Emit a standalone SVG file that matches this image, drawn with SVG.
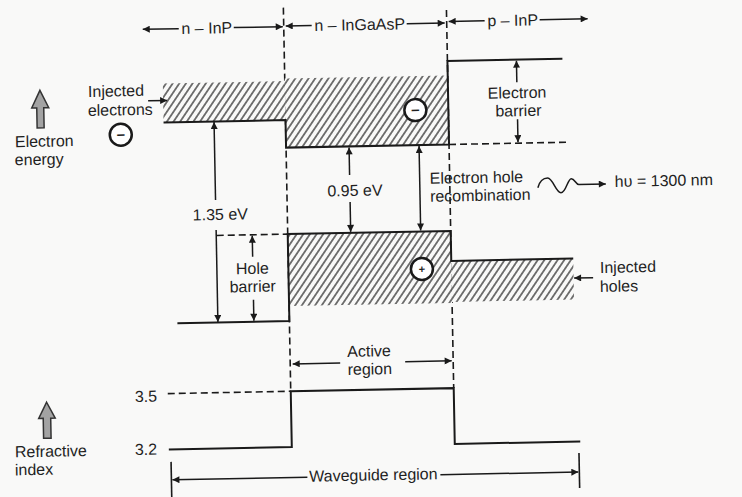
<svg xmlns="http://www.w3.org/2000/svg" width="742" height="497" viewBox="0 0 742 497">
  <style>
    text { font-family: "Liberation Sans", Arial, Helvetica, sans-serif; font-size: 16px; fill: #1f1f1f; }
    .mid { text-anchor: middle; }
    .band { fill: none; stroke: #1a1a1a; stroke-width: 2; }
    .dash { fill: none; stroke: #1a1a1a; stroke-width: 1.6; stroke-dasharray: 7 4; }
    .arr { fill: none; stroke: #1a1a1a; stroke-width: 1.5; marker-end: url(#ah); }
    .both { marker-start: url(#ah); }
    .hatch { fill: url(#hatch); stroke: none; }
    .carrier { fill: #ffffff; stroke: #1a1a1a; stroke-width: 2.5; }
    .hollow { fill: #a3a3a3; stroke: #333333; stroke-width: 1.5; }
    .sign { font-weight: bold; }
  </style>
  <defs>
    <marker id="ah" viewBox="0 0 10 10" refX="10" refY="5" markerWidth="9" markerHeight="7" markerUnits="userSpaceOnUse" orient="auto-start-reverse">
      <path d="M0,0 L10,5 L0,10 z" fill="#1a1a1a"/>
    </marker>
    <pattern id="hatch" patternUnits="userSpaceOnUse" width="5.5" height="10" patternTransform="rotate(35)">
      <rect width="5.5" height="10" fill="#f9f9f8"/>
      <line x1="2.75" y1="0" x2="2.75" y2="10" stroke="#333333" stroke-width="1.3"/>
    </pattern>
  </defs>
  <rect width="742" height="497" fill="#f9f9f8"/>
  <g transform="rotate(-1.1 371 248)">
    <g id="layer-labels">
      <line class="arr" x1="183" y1="25" x2="147" y2="25"/>
      <text class="mid" x="211" y="30.5">n – InP</text>
      <line class="arr" x1="238" y1="25" x2="287" y2="25"/>
      <line class="arr" x1="316" y1="24.5" x2="290" y2="24.5"/>
      <text class="mid" x="364" y="30">n – InGaAsP</text>
      <line class="arr" x1="411" y1="24.5" x2="449" y2="24.5"/>
      <line class="arr" x1="489" y1="23" x2="453" y2="23"/>
      <text class="mid" x="517" y="28.5">p – InP</text>
      <line class="arr" x1="544" y1="23" x2="592" y2="23"/>
    </g>
    <g id="junctions">
      <line class="dash" x1="288" y1="6" x2="288" y2="389.7"/>
      <line class="dash" x1="451" y1="11.5" x2="451" y2="389.7"/>
    </g>
    <g id="conduction-band">
      <rect class="hatch" x="166" y="79.5" width="122" height="39"/>
      <rect class="hatch" x="288" y="77" width="163" height="69"/>
      <polyline class="band" points="166,118.5 288,118.5 288,146 451,146 451,62.5 566,62.5"/>
      <line class="dash" x1="451" y1="146" x2="568" y2="146"/>
    </g>
    <g id="valence-band">
      <rect class="hatch" x="288" y="232.5" width="163" height="72"/>
      <rect class="hatch" x="451" y="262.5" width="122" height="41"/>
      <polyline class="band" points="176,319.5 288,319.5 288,232.5 451,232.5 451,262.5 573,262.5"/>
      <line class="dash" x1="217" y1="232.5" x2="288" y2="232.5"/>
    </g>
    <g id="electron-n">
      <circle class="carrier" cx="123" cy="130" r="11"/>
      <text class="mid sign" x="123" y="134.3" style="font-size:15px">–</text>
    </g>
    <g id="electron-active">
      <circle class="carrier" cx="418" cy="111" r="11"/>
      <text class="mid sign" x="418" y="115.3" style="font-size:15px">–</text>
    </g>
    <g id="hole-active">
      <circle class="carrier" cx="421.5" cy="270" r="11"/>
      <text class="mid sign" x="421.5" y="274" style="font-size:11px">+</text>
    </g>
    <g id="injected-electrons">
      <text x="91" y="91.6">Injected</text>
      <text x="90.5" y="110.6">electrons</text>
      <line class="arr" x1="151" y1="96.5" x2="170" y2="96.5"/>
    </g>
    <g id="electron-energy">
      <path class="hollow" d="M43,84 L51.5,101.5 L46.5,101.5 L46.5,121.5 L39.5,121.5 L39.5,101.5 L34.5,101.5 Z"/>
      <text x="17" y="140.5">Electron</text>
      <text x="16.5" y="158.5">energy</text>
    </g>
    <g id="gap-135">
      <line class="arr" x1="216.5" y1="197" x2="216.5" y2="119"/>
      <text class="mid" x="221" y="217">1.35 eV</text>
      <line class="arr" x1="216.5" y1="227" x2="216.5" y2="319"/>
    </g>
    <g id="hole-barrier">
      <line class="arr" x1="252.5" y1="254.5" x2="252.5" y2="233.5"/>
      <text class="mid" x="252" y="271.7">Hole</text>
      <text class="mid" x="252" y="289.7">barrier</text>
      <line class="arr" x1="252.5" y1="297.5" x2="252.5" y2="318.5"/>
    </g>
    <g id="gap-095">
      <line class="arr" x1="351" y1="174.5" x2="351" y2="147"/>
      <text class="mid" x="356" y="195.7">0.95 eV</text>
      <line class="arr" x1="351" y1="201.5" x2="351" y2="231.5"/>
    </g>
    <g id="recombination">
      <line class="arr both" x1="421" y1="147" x2="421" y2="231.5"/>
      <text x="431" y="185">Electron hole</text>
      <text x="431" y="203">recombination</text>
    </g>
    <g id="electron-barrier">
      <line class="arr" x1="520" y1="85" x2="520" y2="63.5"/>
      <text class="mid" x="520" y="101">Electron</text>
      <text class="mid" x="521" y="119">barrier</text>
      <line class="arr" x1="520" y1="122" x2="520" y2="145"/>
    </g>
    <g id="photon">
      <path class="arr" d="M539,191 C541,184 545,181.5 549,181.5 C554,181.5 557,196.5 562,196.5 C567,196.5 569,182.5 572.5,182.5 C576,182.5 577,188.5 580,188.5 L607,188.5"/>
      <text x="616" y="191.7">hυ = 1300 nm</text>
    </g>
    <g id="injected-holes">
      <text x="599.5" y="277.4">Injected</text>
      <text x="599" y="296.4">holes</text>
      <line class="arr" x1="592.5" y1="282" x2="573.5" y2="282"/>
    </g>
    <g id="refractive-index">
      <path class="hollow" d="M43.7,396 L52,412 L47.5,412 L47.5,432 L40,432 L40,412 L35.5,412 Z"/>
      <text x="11" y="450.5">Refractive</text>
      <text x="10.7" y="468.5">index</text>
      <text x="132" y="397.5">3.5</text>
      <text x="131" y="450.5">3.2</text>
      <line class="dash" x1="165" y1="389.7" x2="288" y2="389.7"/>
      <polyline class="band" points="165,445.5 288,445.5 288,389.7 451,389.7 451,445.5 576.5,445.5"/>
    </g>
    <g id="active-region">
      <text class="mid" x="367" y="356.5">Active</text>
      <text class="mid" x="367.5" y="374.5">region</text>
      <line class="arr" x1="338" y1="362.4" x2="290.5" y2="362.4"/>
      <line class="arr" x1="403" y1="362.4" x2="449.5" y2="362.4"/>
    </g>
    <g id="waveguide-region">
      <line class="band" x1="167" y1="458" x2="167" y2="494" style="stroke-width:1.6"/>
      <line class="band" x1="575" y1="457" x2="575" y2="492" style="stroke-width:1.6"/>
      <line class="arr" x1="303" y1="476" x2="168" y2="476"/>
      <line class="arr" x1="436" y1="476" x2="574" y2="476"/>
      <text class="mid" x="369" y="480.5">Waveguide region</text>
    </g>
  </g>
</svg>
